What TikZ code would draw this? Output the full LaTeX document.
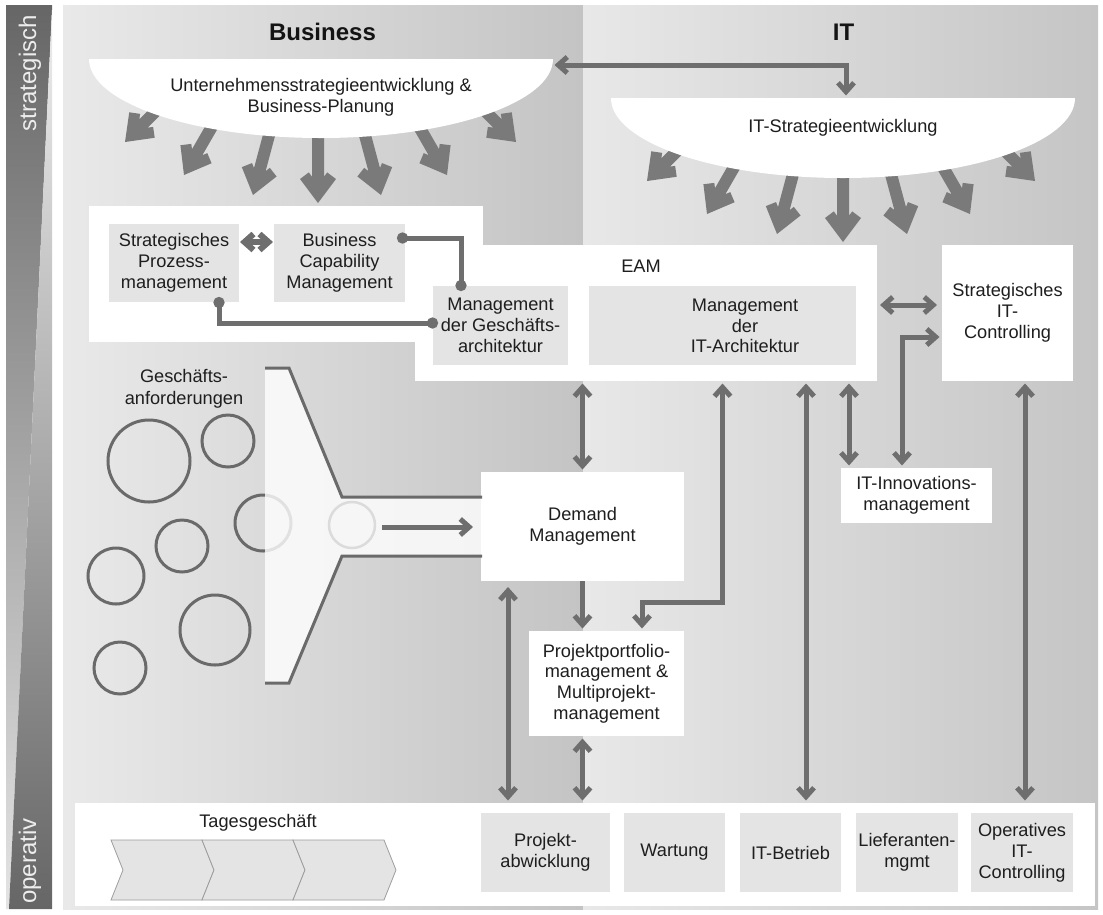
\documentclass[tikz,border=0pt]{standalone}
\usepackage{fontspec}
\setmainfont{Liberation Sans}
\usetikzlibrary{arrows.meta,calc}
\definecolor{conn}{HTML}{6E6E6E}
\definecolor{fanc}{HTML}{7A7A7A}
\definecolor{boxg}{HTML}{E4E4E4}
\definecolor{txt}{HTML}{1E1E1E}
\definecolor{circc}{HTML}{6A6A6A}
\definecolor{barD}{HTML}{666666}
\definecolor{barL}{HTML}{E4E4E4}
\definecolor{barL2}{HTML}{EEEEEE}
\definecolor{bizL}{HTML}{E9E9E9}
\definecolor{bizR}{HTML}{C4C4C4}
\definecolor{itL}{HTML}{E8E8E8}
\definecolor{itR}{HTML}{C5C5C5}
\definecolor{chevd}{HTML}{9C9C9C}
\newcommand\tf{\fontsize{18.2pt}{20.8pt}\selectfont}
\newcommand\fanarr[3]{\fill[fanc,shift={(#1,#2)},rotate=#3] (0,0) -- (-24,18) -- (-30.6,9.2) -- (-26.3,6) -- (-95,6) -- (-95,-6) -- (-26.3,-6) -- (-30.6,-9.2) -- (-24,-18) -- cycle;}
\begin{document}
\begin{tikzpicture}[x=1pt,y=-1pt,
  every node/.style={inner sep=0pt,outer sep=0pt,text=txt,align=center,font=\tf},
  wbox/.style={fill=white},
  gbox/.style={fill=boxg},
  cn/.style={draw=conn,line width=5pt,{Straight Barb[length=9pt,width=16pt]}-{Straight Barb[length=9pt,width=16pt]},shorten <=2.5pt,shorten >=2.5pt},
  cns/.style={draw=conn,line width=5pt,-{Straight Barb[length=9pt,width=16pt]},shorten >=2.5pt},
  dotc/.style={draw=conn,line width=5pt,{Circle[length=11pt]}-{Circle[length=11pt]}},
  circ/.style={draw=circc,line width=3pt},
  funl/.style={draw=circc,line width=3pt},
  chev/.style={fill=boxg,draw=chevd,line width=0.8pt}]
\useasboundingbox (0,0) rectangle (1103,914);
% left bar
\shade[top color=barD,bottom color=barL] (6,5) -- (52,5) -- (52,10) -- (9,909) -- (6,909) -- cycle;
\shade[top color=barL2,bottom color=barD] (52,10) -- (52,909) -- (9,909) -- cycle;
\node[rotate=90,text=white!93!black,font=\fontsize{24pt}{24pt}\selectfont] (lstrat) at (30,73) {strategisch};
\node[rotate=90,text=white!93!black,font=\fontsize{24pt}{24pt}\selectfont] (lop) at (30,861) {operativ};
% panels
\shade[left color=bizL,right color=bizR] (63,5) rectangle (583,909);
\shade[left color=itL,right color=itR] (583,5) rectangle (1098,909);
\node[font=\bfseries\fontsize{24pt}{24pt}\selectfont,text=black!92] (hbiz) at (322.5,32) {Business};
\node[font=\bfseries\fontsize{24pt}{24pt}\selectfont,text=black!92] (hit) at (843.5,32) {IT};
% fan arrows
\foreach \tx/\ty/\a in {125/142/-135,184/175/-120,253/195/-105,318/203/-90,381/195/-75,447/175/-60,516/142/-45}{\fanarr{\tx}{\ty}{\a}}
\foreach \tx/\ty/\a in {647/181/-135,707/214/-120,777/234/-105,843/242/-90,907/234/-75,970/214/-60,1035/181/-45}{\fanarr{\tx}{\ty}{\a}}
% bowls
\fill[white] (89,59) -- (553,59) arc[start angle=0,end angle=-180,x radius=232pt,y radius=79pt] -- cycle;
\fill[white] (611,98) -- (1075,98) arc[start angle=0,end angle=-180,x radius=232pt,y radius=80pt] -- cycle;
\node (ustrat) at (321,97.5) {Unternehmensstrategieentwicklung \&\\Business-Planung};
\node (itstrat) at (843,128) {IT-Strategieentwicklung};
\coordinate (lbr) at (552,65);
\coordinate (itbt) at (846,98);
\draw[cn] (lbr) -| (itbt);
% white boxes
\node[wbox,minimum width=394pt,minimum height=136pt] (wb) at (286,274) {};
\node[wbox,minimum width=462pt,minimum height=136pt] (eam) at (646,313) {};
\node (eamt) at (641,266) {EAM};
\node[wbox,minimum width=131pt,minimum height=136pt] (sitc) at (1007.5,313) {Strategisches\\IT-\\Controlling};
\node[wbox,minimum width=151pt,minimum height=55pt] (itinn) at (916.5,495.5) {IT-Innovations-\\management};
\node[wbox,minimum width=203pt,minimum height=109pt] (dm) at (582.5,526.5) {Demand\\Management};
\node[wbox,minimum width=155pt,minimum height=105pt] (ppm) at (606.5,683.5) {Projektportfolio-\\management \&\\Multiprojekt-\\management};
\node[wbox,minimum width=1020pt,minimum height=103pt] (band) at (585,854.5) {};
% grey boxes
\node[gbox,minimum width=130pt,minimum height=78pt] (spm) at (174,263) {Strategisches\\Prozess-\\management};
\node[gbox,minimum width=131pt,minimum height=78pt] (bcm) at (339.5,263) {Business\\Capability\\Management};
\node[gbox,minimum width=135pt,minimum height=79pt] (mga) at (500.5,325.5) {Management\\der Geschäfts-\\architektur};
\node[gbox,minimum width=267pt,minimum height=79pt] (mita) at (722.5,325.5) {};
\node (mitat) at (745,326) {Management\\der\\IT-Architektur};
\node[gbox,minimum width=129pt,minimum height=79pt] (pab) at (545.5,852.5) {Projekt-\\abwicklung};
\node[gbox,minimum width=101pt,minimum height=79pt] (wart) at (674.5,852.5) {Wartung};
\node[gbox,minimum width=101pt,minimum height=79pt] (itbe) at (790.5,852.5) {IT-Betrieb};
\node[gbox,minimum width=102pt,minimum height=79pt] (lief) at (907,852.5) {Lieferanten-\\mgmt};
\node[gbox,minimum width=102pt,minimum height=79pt] (opit) at (1022,852.5) {Operatives\\IT-\\Controlling};
% Tagesgeschaeft
\node (tages) at (258,823) {Tagesgeschäft};
\foreach \x in {111,202,293}{\draw[chev] (\x,840) -- ++(91,0) -- ++(12,30) -- ++(-12,30) -- ++(-91,0) -- ++(12,-30) -- cycle;}
% requirements
\node[font=\fontsize{18.2pt}{22pt}\selectfont] (gesch) at (184,389) {Geschäfts-\\anforderungen};
\draw[circ] (149,461) circle[radius=41pt];
\draw[circ] (228,441) circle[radius=26pt];
\draw[circ] (263,523) circle[radius=28pt];
\draw[circ] (182,546) circle[radius=26pt];
\draw[circ] (116,576) circle[radius=28pt];
\draw[circ] (215,630) circle[radius=35pt];
\draw[circ] (120,668) circle[radius=26pt];
% funnel
\fill[white,fill opacity=0.8] (265,368) -- (289,368) -- (342,497) -- (482,497) -- (482,556) -- (342,556) -- (289,683) -- (265,683) -- cycle;
\draw[funl] (265,368) -- (289,368) -- (342,497) -- (482,497);
\draw[funl] (265,683) -- (289,683) -- (342,556) -- (482,556);
\draw[draw=black!14,line width=2.5pt] (352,525) circle[radius=23pt];
\coordinate (fst) at (382,527);
\draw[cns,shorten >=8pt] (fst) -- (fst -| dm.west);
% column helpers
\coordinate (x508) at (508,0);
\coordinate (x806) at (806,0);
\coordinate (x849) at (849,0);
\coordinate (x902) at (902,0);
\coordinate (x1025) at (1025,0);
\coordinate (k642) at (642,602);
% connectors
\draw[cn,line width=6pt,shorten <=1pt,shorten >=1pt] ([yshift=21pt]spm.east) -- ([yshift=21pt]bcm.west);
\draw[dotc] ([xshift=-8pt,yshift=-14pt]bcm.north east) -| ([xshift=28pt,yshift=-5pt]mga.north west);
\draw[dotc] ([xshift=45pt,yshift=5pt]spm.south) |- ([xshift=5pt,yshift=2.5pt]mga.west);
\draw[cn] (eam.south -| dm.north) -- (dm.north);
\draw[cns] (dm.south) -- (dm.south |- ppm.north);
\draw[cn] (ppm.south -| dm.south) -- (band.north -| dm.south);
\draw[cn,shorten <=6pt] (dm.south -| x508) -- (band.north -| x508);
\draw[cn] (eam.south -| mita.south) |- (k642) -- (k642 |- ppm.north);
\draw[cn] (eam.south -| x806) -- (band.north -| x806);
\draw[cn] (eam.south -| x849) -- (itinn.north -| x849);
\draw[cn] (itinn.north -| x902) |- ([yshift=-24pt]sitc.west);
\draw[cn,shorten <=3pt,shorten >=5pt] ([yshift=8pt]eam.east) -- ([yshift=8pt]sitc.west);
\draw[cn] (sitc.south -| x1025) -- (band.north -| x1025);
\end{tikzpicture}
\end{document}
